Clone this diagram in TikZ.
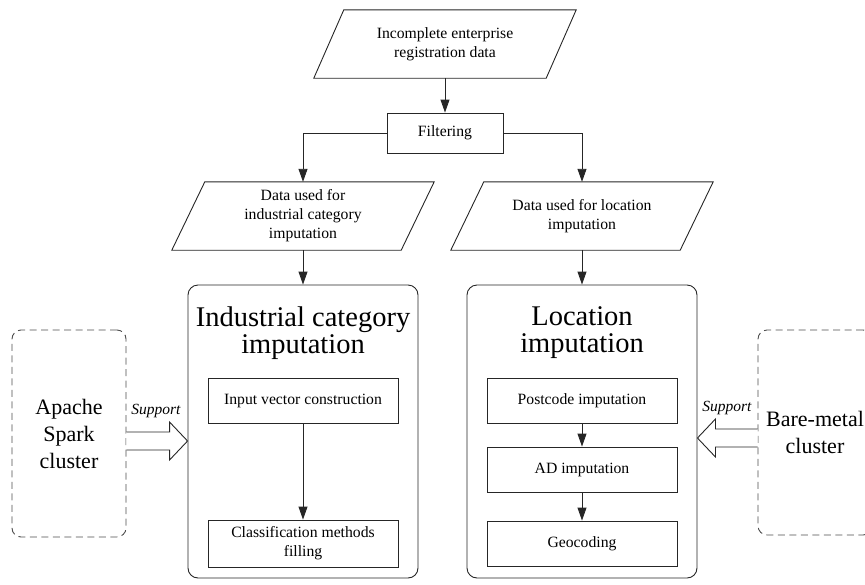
\documentclass[tikz,border=0pt]{standalone}
\usepackage{fontspec}
\setmainfont{Liberation Serif}
\usetikzlibrary{arrows.meta,calc}
\begin{document}
\begin{tikzpicture}[x=1pt,y=-1pt,
  line/.style={draw=black!85, line width=0.9pt},
  arr/.style={line, -{Triangle[length=13pt,width=9pt]}},
  txt/.style={font=\fontsize{15.7}{19}\selectfont, align=center},
  box/.style={line, txt, rectangle, inner sep=0pt},
  para/.style={txt, inner sep=0pt},
  group/.style={line, rounded corners=10pt, inner sep=0pt},
  dashbox/.style={draw=black!70, line width=0.9pt, dash pattern=on 7pt off 4.5pt, rounded corners=9pt, inner sep=0pt, font=\fontsize{22}{27}\selectfont, align=center},
  title/.style={font=\fontsize{28.5}{27}\selectfont, align=center, inner sep=0pt},
  support/.style={font=\itshape\fontsize{15.5}{18}\selectfont, inner sep=0pt},
  hollow/.style={line, fill=white, line join=miter}]

\clip (0,0) rectangle (865,584);

% top input
\node[para, minimum width=232pt, minimum height=68pt] (in) at (445,44) {Incomplete enterprise\\registration data};
\draw[line] ([xshift=-15pt]in.south west) -- ([xshift=-15pt]in.south east) -- ([xshift=15pt]in.north east) -- ([xshift=15pt]in.north west) -- cycle;

\node[box, minimum width=116pt, minimum height=40pt] (filt) at (445,133) {Filtering};

% data parallelograms
\node[para, minimum width=229pt, minimum height=68pt] (d1) at (303,216) {Data used for\\industrial category\\imputation};
\draw[line] ([xshift=-16.5pt]d1.south west) -- ([xshift=-16.5pt]d1.south east) -- ([xshift=16.5pt]d1.north east) -- ([xshift=16.5pt]d1.north west) -- cycle;

\node[para, minimum width=229pt, minimum height=68pt] (d2) at (582,216) {Data used for location\\imputation};
\draw[line] ([xshift=-16.5pt]d2.south west) -- ([xshift=-16.5pt]d2.south east) -- ([xshift=16.5pt]d2.north east) -- ([xshift=16.5pt]d2.north west) -- cycle;

% groups
\node[group, minimum width=230pt, minimum height=293pt] (g1) at (303,431.5) {};
\node[group, minimum width=230pt, minimum height=293pt] (g2) at (582,431.5) {};
\node[title] (t1) at (303,333) {Industrial category\\imputation};
\node[title] (t2) at (582,333) {Location\\imputation};

% inner boxes
\node[box, minimum width=190pt, minimum height=45pt] (iv) at (303,400.5) {Input vector construction};
\node[box, minimum width=190pt, minimum height=47pt] (cm) at (303,543.5) {Classification methods\\filling};
\node[box, minimum width=190pt, minimum height=45pt] (pc) at (582,400.5) {Postcode imputation};
\node[box, minimum width=190pt, minimum height=45pt] (ad) at (582,469.5) {AD imputation};
\node[box, minimum width=190pt, minimum height=45pt] (geo) at (582,543.5) {Geocoding};

% clusters
\node[dashbox, minimum width=114pt, minimum height=207pt] (spark) at (69,433.5) {Apache\\Spark\\cluster};
\node[dashbox, minimum width=114pt, minimum height=205pt] (bare) at (815,432.5) {Bare-metal\\cluster};

% connectors
\draw[arr] (in.south) -- (filt.north);
\draw[arr] (filt.west) -| (d1.north);
\draw[arr] (filt.east) -| (d2.north);
\draw[arr] (d1.south) -- (g1.north);
\draw[arr] (d2.south) -- (g2.north);
\draw[arr] (iv) -- (cm);
\draw[arr] (pc) -- (ad);
\draw[arr] (ad) -- (geo);

% support arrows
\coordinate (ly) at (0,441);
\coordinate (ry) at (0,438);
\draw[hollow] ($(spark.east |- ly)+(0,-9)$) -- ($(g1.west |- ly)+(-18,-9)$) -- ($(g1.west |- ly)+(-18,-19)$) -- (g1.west |- ly) -- ($(g1.west |- ly)+(-18,19)$) -- ($(g1.west |- ly)+(-18,9)$) -- ($(spark.east |- ly)+(0,9)$);
\draw[hollow] ($(bare.west |- ry)+(0,-9)$) -- ($(g2.east |- ry)+(18,-9)$) -- ($(g2.east |- ry)+(18,-19)$) -- (g2.east |- ry) -- ($(g2.east |- ry)+(18,19)$) -- ($(g2.east |- ry)+(18,9)$) -- ($(bare.west |- ry)+(0,9)$);
\node[support] (s1) at (156,411) {Support};
\node[support] (s2) at (727,408) {Support};
\end{tikzpicture}
\end{document}
